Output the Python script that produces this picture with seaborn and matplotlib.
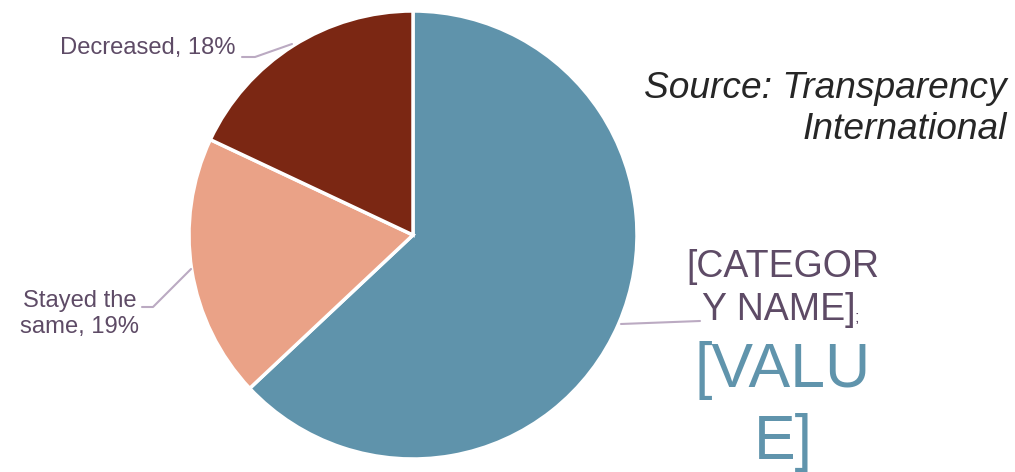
import matplotlib
matplotlib.use("Agg")
import matplotlib.pyplot as plt
from matplotlib.lines import Line2D
import seaborn as sns

categories = ["Increased", "Stayed the same", "Decreased"]
values = [63, 19, 18]
colors = ["#5F93AB", "#EAA287", "#7B2713"]

sns.set_theme(style="white")
plt.rcParams['font.family'] = ['Liberation Sans', 'DejaVu Sans']

W, H = 1015, 472
fig = plt.figure(figsize=(W / 100, H / 100), dpi=100)


def fx(x):
    return x / W


def fy(y):
    return 1 - y / H


cx, cy, r = 413, 235, 224
ax = fig.add_axes([fx(cx - r), fy(cy + r), 2 * r / W, 2 * r / H])
ax.pie(values, colors=colors, startangle=90, counterclock=False,
       wedgeprops=dict(edgecolor="white", linewidth=2.5), radius=1)
ax.set_xlim(-1, 1)
ax.set_ylim(-1, 1)
ax.set_aspect("equal")
ax.axis("off")

txt = "#5E4B66"
lead = "#BBAAC2"

# Decreased label
fig.text(fx(236), fy(48), f"{categories[2]}, {values[2]}%", ha="right", va="center",
         fontsize=17.1, color=txt)
fig.add_artist(Line2D([fx(242), fx(255), fx(292)], [fy(57), fy(57), fy(44)],
                      color=lead, lw=1.5, transform=fig.transFigure))

# Stayed the same label
fig.text(fx(80), fy(314), f"Stayed the\nsame, {values[1]}%", ha="center", va="center",
         fontsize=17.1, color=txt, linespacing=1.2, multialignment="center")
fig.add_artist(Line2D([fx(142), fx(153), fx(191)], [fy(307), fy(307), fy(269)],
                      color=lead, lw=1.5, transform=fig.transFigure))

# Placeholder label for big slice
fig.text(fx(783), fy(267), "[CATEGOR", ha="center", va="center", fontsize=27, color=txt)
fig.text(fx(779), fy(310), "Y NAME]", ha="center", va="center", fontsize=27, color=txt)
fig.text(fx(857), fy(318), ";", ha="center", va="center", fontsize=12, color=txt)
fig.text(fx(783), fy(370), "[VALU", ha="center", va="center", fontsize=45, color="#6094AC")
fig.text(fx(783), fy(443), "E]", ha="center", va="center", fontsize=45, color="#6094AC")
fig.add_artist(Line2D([fx(621), fx(700)], [fy(324), fy(321)],
                      color=lead, lw=1.5, transform=fig.transFigure))

# Source
fig.text(fx(1007), fy(88), "Source: Transparency", ha="right", va="center",
         fontsize=26.7, style="italic", color="#262626")
fig.text(fx(1007), fy(130), "International", ha="right", va="center",
         fontsize=26.7, style="italic", color="#262626")

fig.savefig("out.png", dpi=100, facecolor="white")
